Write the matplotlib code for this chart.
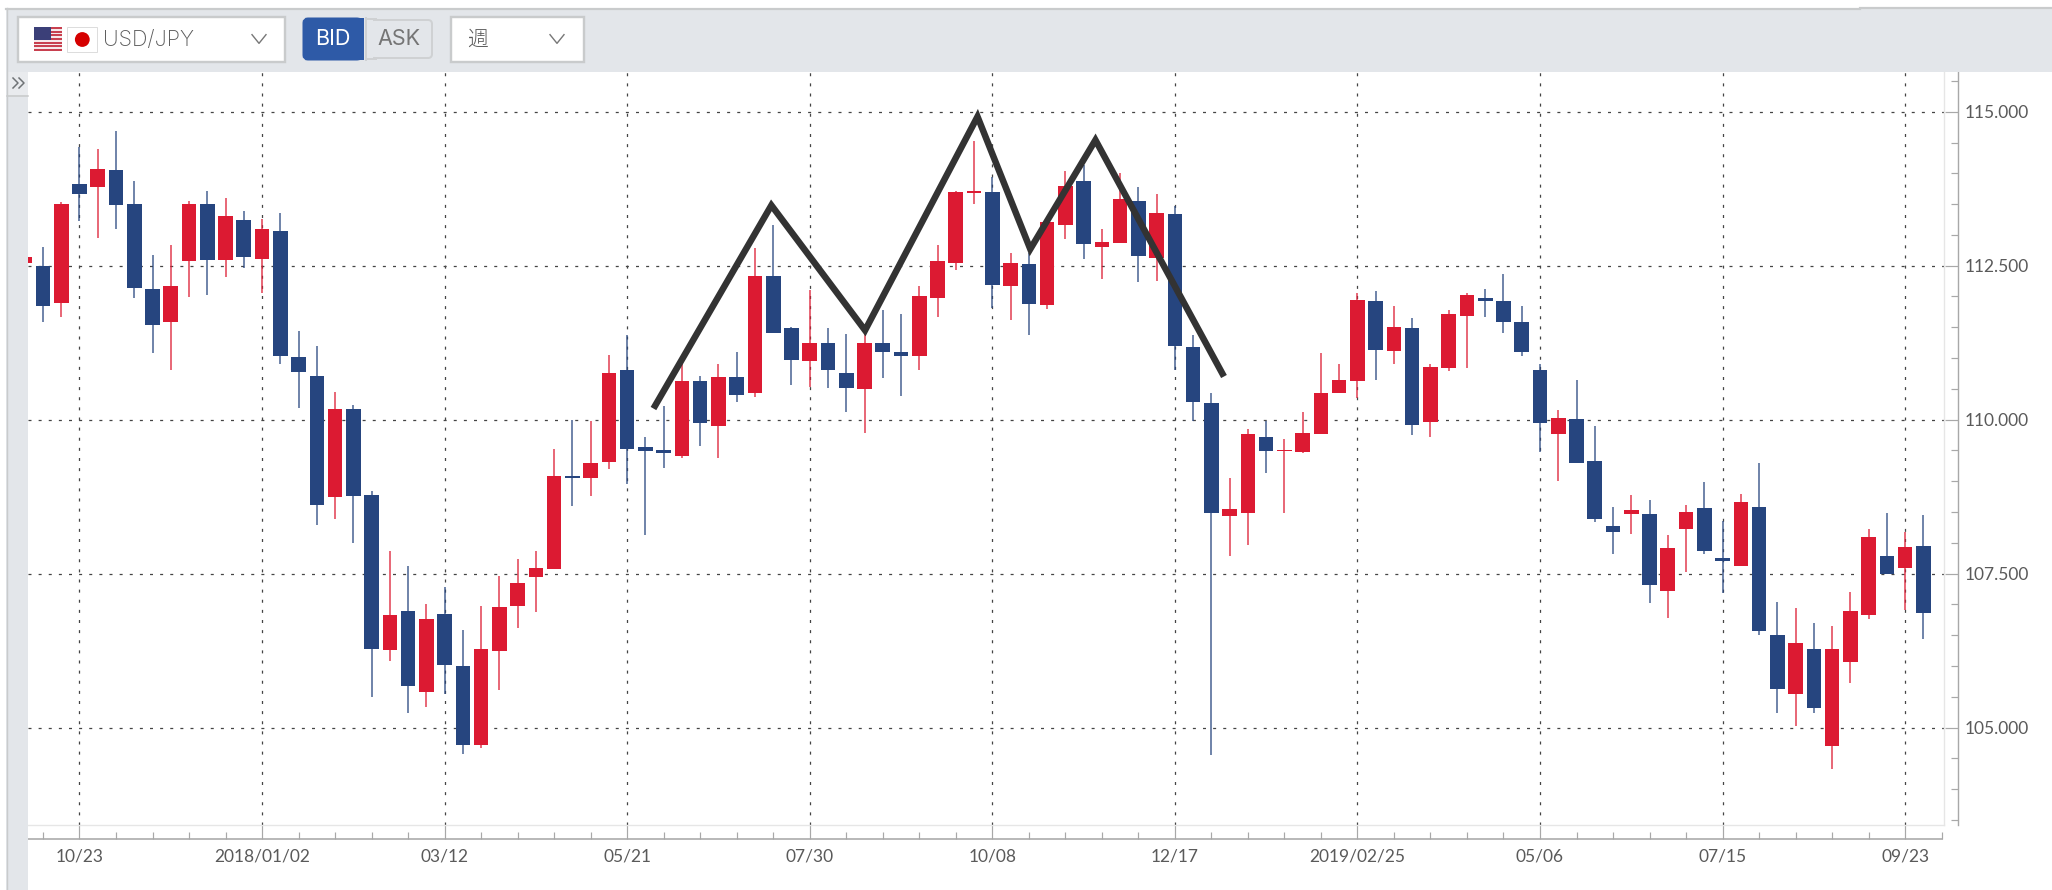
import matplotlib
matplotlib.use("Agg")
import matplotlib.pyplot as plt
from matplotlib.patches import Rectangle, Circle, FancyBboxPatch
from matplotlib.ticker import FixedLocator, FixedFormatter

# USD/JPY weekly candles, week number 0 is the 10/23 candle
weeks = list(range(-3, 102))
opens = [112.54, 112.49, 111.90,
         113.82, 113.77, 114.06, 113.50, 112.12, 111.58, 112.57, 113.50, 112.59, 113.24,
         112.61, 113.07, 111.02, 110.71, 108.75, 110.18, 108.78, 106.26, 106.90, 105.58,
         106.85, 106.00, 104.71, 106.25, 106.97, 107.45, 107.58, 109.09, 109.06, 109.31,
         110.81, 109.55, 109.51, 109.41, 110.62, 109.89, 110.70, 110.43, 112.34, 111.49,
         110.96, 111.25, 110.76, 110.50, 111.24, 111.09, 111.03, 111.97, 112.54, 113.68,
         113.70, 112.17, 112.53, 111.86, 113.16, 113.87, 112.81, 112.87, 113.55, 112.62,
         113.34, 111.18, 110.27, 108.44, 108.48, 109.71, 109.49, 109.48, 109.77, 110.44,
         110.62, 111.92, 111.11, 111.49, 109.96, 110.84, 111.68, 111.98, 111.92, 111.58,
         110.81, 109.77, 110.01, 109.33, 108.27, 108.46, 108.46, 107.21, 108.22, 108.57,
         107.75, 107.63, 108.58, 106.50, 105.54, 106.28, 104.70, 106.06, 106.83, 107.78,
         107.59, 107.95]
closes = [112.64, 111.85, 113.50,
          113.66, 114.07, 113.49, 112.13, 111.53, 112.17, 113.50, 112.59, 113.31, 112.64,
          113.09, 111.04, 110.77, 108.62, 110.18, 108.76, 106.27, 106.83, 105.68, 106.77,
          106.02, 104.72, 106.27, 106.96, 107.34, 107.59, 109.08, 109.05, 109.30, 110.75,
          109.52, 109.49, 109.45, 110.62, 109.95, 110.69, 110.40, 112.34, 111.40, 110.97,
          111.25, 110.80, 110.52, 111.25, 111.09, 111.03, 112.00, 112.58, 113.70, 113.72,
          112.18, 112.54, 111.88, 113.21, 113.79, 112.85, 112.89, 113.58, 112.66, 113.36,
          111.20, 110.28, 108.48, 108.55, 109.76, 109.49, 109.51, 109.78, 110.44, 110.64,
          111.95, 111.13, 111.51, 109.92, 110.86, 111.71, 112.02, 111.92, 111.59, 111.10,
          109.95, 110.02, 109.29, 108.39, 108.18, 108.54, 107.32, 107.92, 108.50, 107.86,
          107.70, 108.67, 106.56, 105.63, 106.37, 105.31, 106.27, 106.89, 108.09, 107.50,
          107.93, 106.86]
highs = [112.64, 112.80, 113.54,
         114.43, 114.40, 114.69, 113.87, 112.68, 112.83, 113.55, 113.72, 113.60, 113.38,
         113.26, 113.35, 111.44, 111.19, 110.45, 110.24, 108.84, 107.86, 107.63, 107.00,
         107.28, 106.59, 106.98, 107.46, 107.74, 107.86, 109.52, 109.99, 109.98, 111.05,
         111.38, 109.71, 110.22, 110.90, 110.71, 110.91, 111.10, 112.78, 113.16, 111.51,
         112.11, 111.48, 111.39, 111.44, 111.78, 111.71, 112.17, 112.83, 113.72, 114.52,
         113.94, 112.70, 112.70, 113.21, 114.04, 114.14, 113.10, 114.01, 113.77, 113.67,
         113.47, 111.37, 110.44, 109.06, 109.84, 109.98, 109.69, 110.12, 111.08, 110.91,
         112.06, 112.09, 111.85, 111.65, 110.90, 111.78, 112.05, 112.12, 112.36, 111.85,
         110.91, 110.15, 110.64, 109.89, 108.58, 108.77, 108.70, 108.13, 108.61, 108.99,
         108.35, 108.80, 109.29, 107.04, 106.94, 106.70, 106.65, 107.20, 108.22, 108.48,
         108.18, 108.45]
lows = [112.54, 111.58, 111.66,
        113.23, 112.95, 113.09, 111.98, 111.08, 110.81, 111.99, 112.03, 112.32, 112.47,
        112.06, 110.91, 110.19, 108.29, 108.38, 108.00, 105.50, 106.08, 105.24, 105.34,
        105.55, 104.57, 104.66, 105.61, 106.62, 106.87, 107.58, 108.60, 108.76, 109.20,
        108.96, 108.12, 109.21, 109.38, 109.57, 109.37, 110.29, 110.36, 111.40, 110.57,
        110.53, 110.52, 110.12, 109.78, 110.67, 110.38, 110.80, 111.67, 112.43, 113.50,
        111.82, 111.61, 111.38, 111.79, 112.94, 112.61, 112.29, 112.87, 112.23, 112.25,
        110.80, 109.97, 104.56, 107.78, 107.97, 109.14, 108.48, 109.46, 109.77, 110.44,
        110.35, 110.65, 110.90, 109.75, 109.72, 110.79, 110.84, 111.66, 111.40, 111.04,
        109.47, 109.01, 109.29, 108.34, 107.81, 108.15, 107.02, 106.78, 107.52, 107.81,
        107.18, 107.63, 106.50, 105.24, 105.03, 105.24, 104.33, 105.72, 106.76, 107.50,
        106.91, 106.43]

# hand drawn zigzag on top of the candles
zigzag_weeks = [31.44, 37.90, 43.03, 49.19, 52.08, 55.65, 62.69]
zigzag_prices = [110.18, 113.48, 111.45, 114.92, 112.77, 114.54, 110.70]

date_ticks = [0, 10, 20, 30, 40, 50, 60, 70, 80, 90, 100]
date_labels = ["10/23", "2018/01/02", "03/12", "05/21", "07/30", "10/08", "12/17",
               "2019/02/25", "05/06", "07/15", "09/23"]
price_ticks = [105.0, 107.5, 110.0, 112.5, 115.0]
price_labels = ["105.000", "107.500", "110.000", "112.500", "115.000"]
minor_date_ticks = list(range(-2, 103, 2))
minor_price_ticks = [103.5 + 0.5 * i for i in range(25)]

W, H = 2052, 890
RED = "#dc1a32"
BLUE = "#26457f"
TOOLBAR = "#e3e6ea"
BORDER = "#c9cbcc"
AXIS = "#a8a8a8"
TEXT = "#5a5a5a"
LABEL_FONT = ["Lato", "DejaVu Sans"]
px = 72 / 100  # one pixel in points

fig = plt.figure(figsize=(W / 100, H / 100), dpi=100, facecolor="white")

# plot area in pixels: x 28..1944, y 72..825
ax = fig.add_axes([28 / W, 1 - 825 / H, (1944 - 28) / W, (825 - 72) / H])
ax.set_xlim(-2.82, 102.13)
ax.set_ylim(103.417, 115.645)
ax.set_axisbelow(True)

colors = [RED if c >= o else BLUE for o, c in zip(opens, closes)]
ax.vlines(weeks, lows, highs, colors=colors, linewidth=2.0 * px, alpha=0.65, zorder=2)
ax.bar(weeks, [abs(c - o) for o, c in zip(opens, closes)],
       bottom=[min(o, c) for o, c in zip(opens, closes)],
       width=0.8, color=colors, linewidth=0, zorder=3)
ax.plot(zigzag_weeks, zigzag_prices, color="#333333", linewidth=6.5 * px,
        solid_joinstyle="miter", solid_capstyle="butt", zorder=4)

# grid
ax.xaxis.set_major_locator(FixedLocator(date_ticks))
ax.xaxis.set_major_formatter(FixedFormatter(date_labels))
ax.xaxis.set_minor_locator(FixedLocator(minor_date_ticks))
ax.yaxis.tick_right()
ax.yaxis.set_major_locator(FixedLocator(price_ticks))
ax.yaxis.set_major_formatter(FixedFormatter(price_labels))
ax.yaxis.set_minor_locator(FixedLocator(minor_price_ticks))
ax.grid(True, which="major", color="#444444", linewidth=0.9, linestyle=(0, (2.4, 5.7)))

# axes sit outside the plot area, ticks point back to it
for side in ["top", "left"]:
    ax.spines[side].set_visible(False)
ax.spines["right"].set_position(("outward", 13.5 * px))
ax.spines["bottom"].set_position(("outward", 14 * px))
ax.spines["bottom"].set_bounds(-2.82, 102)
ax.spines["right"].set_color(AXIS)
ax.spines["bottom"].set_color(AXIS)
ax.spines["right"].set_linewidth(1.4 * px)
ax.spines["bottom"].set_linewidth(1.6 * px)
ax.tick_params(axis="x", which="major", direction="in", length=14 * px, width=1.2 * px,
               color=AXIS, pad=7, labelsize=12.5, labelcolor=TEXT)
ax.tick_params(axis="x", which="minor", direction="in", length=7.5 * px, width=1.2 * px, color=AXIS)
ax.tick_params(axis="y", which="major", direction="in", length=13.5 * px, width=1.2 * px,
               color=AXIS, pad=5, labelsize=12.5, labelcolor=TEXT)
ax.tick_params(axis="y", which="minor", direction="in", length=7 * px, width=1.2 * px, color=AXIS)
for label in ax.get_xticklabels() + ax.get_yticklabels():
    label.set_family(LABEL_FONT)

# toolbar and side strip, drawn in pixel coordinates
top = fig.add_axes([0, 0, 1, 1], zorder=5)
top.set_xlim(0, W)
top.set_ylim(H, 0)
top.axis("off")
top.patch.set_alpha(0)


def box(x0, y0, x1, y1, face, edge=None, lw=0.0):
    top.add_patch(Rectangle((x0, y0), x1 - x0, y1 - y0, facecolor=face,
                            edgecolor=edge if edge else "none", linewidth=lw * px))


def chevron(cx, cy, size=7):
    top.plot([cx - size, cx, cx + size], [cy - size * 0.62, cy + size * 0.62, cy - size * 0.62],
             color="#777777", linewidth=1.4 * px)


box(6, 8, W, 72, TOOLBAR)
top.plot([6, 1860], [8.5, 8.5], color=BORDER, linewidth=2.2 * px)
top.plot([1860, W], [7.5, 7.5], color=BORDER, linewidth=2.2 * px)
box(6, 72, 28, H, TOOLBAR)
top.plot([6.5, 6.5], [8, H], color=BORDER, linewidth=1.4 * px)

# >> button
box(7, 72, 28, 95, "#e9ebee")
top.plot([7, 28], [95.5, 95.5], color=BORDER, linewidth=1.6 * px)
for dx in [0, 6]:
    top.plot([13 + dx, 18 + dx, 13 + dx], [78, 83, 88], color="#6e7275", linewidth=1.5 * px)

# currency pair selector
box(17.5, 16.5, 285, 62, "white", BORDER, 2.4)
flag_x0, flag_x1, flag_y0, flag_y1 = 34, 62, 27, 51
for i in range(13):
    h = (flag_y1 - flag_y0) / 13
    box(flag_x0, flag_y0 + i * h, flag_x1, flag_y0 + (i + 1) * h, "#c8404f" if i % 2 == 0 else "#f6e9ea")
box(flag_x0, flag_y0, 51, flag_y0 + 13, "#3b3f78")
box(67, 27, 97, 51.5, "white", "#dddddd", 1.0)
top.add_patch(Circle((82.3, 39.5), 7.4, facecolor="#d50000", edgecolor="none"))
top.text(103, 40, "USD/JPY", family=["Inter", "DejaVu Sans"], fontsize=15.5, color=TEXT,
         fontweight="light", va="center", ha="left")
chevron(259, 39)

# BID / ASK
top.add_patch(FancyBboxPatch((305, 20), 55, 38, boxstyle="round,pad=0,rounding_size=3",
                             facecolor="#2e5aa7", edgecolor="#2e5aa7", linewidth=5 * px))
box(330, 18, 364, 60, "#2e5aa7")
top.add_patch(FancyBboxPatch((370, 20), 62, 38, boxstyle="round,pad=0,rounding_size=4",
                             facecolor=TOOLBAR, edgecolor="#cfd1d3", linewidth=2 * px))
box(365, 17, 373, 61, TOOLBAR)
top.plot([366, 366], [18, 60], color="#cfd1d3", linewidth=2 * px)
top.plot([366, 376], [19, 19], color="#cfd1d3", linewidth=2 * px)
top.plot([366, 376], [59, 59], color="#cfd1d3", linewidth=2 * px)
top.text(332.5, 39, "BID", family=["Inter", "DejaVu Sans"], fontsize=15.5, color="white",
         va="center", ha="center")
top.text(399.5, 39, "ASK", family=["Inter", "DejaVu Sans"], fontsize=15.5, color="#757575",
         va="center", ha="center")

# period selector
box(450.5, 16.5, 584, 62, "white", BORDER, 2.4)
top.text(477.5, 39.5, "週", family=["Noto Sans CJK JP", "DejaVu Sans"], fontsize=15,
         color=TEXT, fontweight="light", va="center", ha="center")
chevron(557, 39)

# light frame around the plot area
top.plot([28, 1944], [825, 825], color="#e6e6e6", linewidth=1.4 * px)
top.plot([1944, 1944], [72, 825], color="#e6e6e6", linewidth=1.4 * px)

fig.savefig("out.png", dpi=100, facecolor="white")
